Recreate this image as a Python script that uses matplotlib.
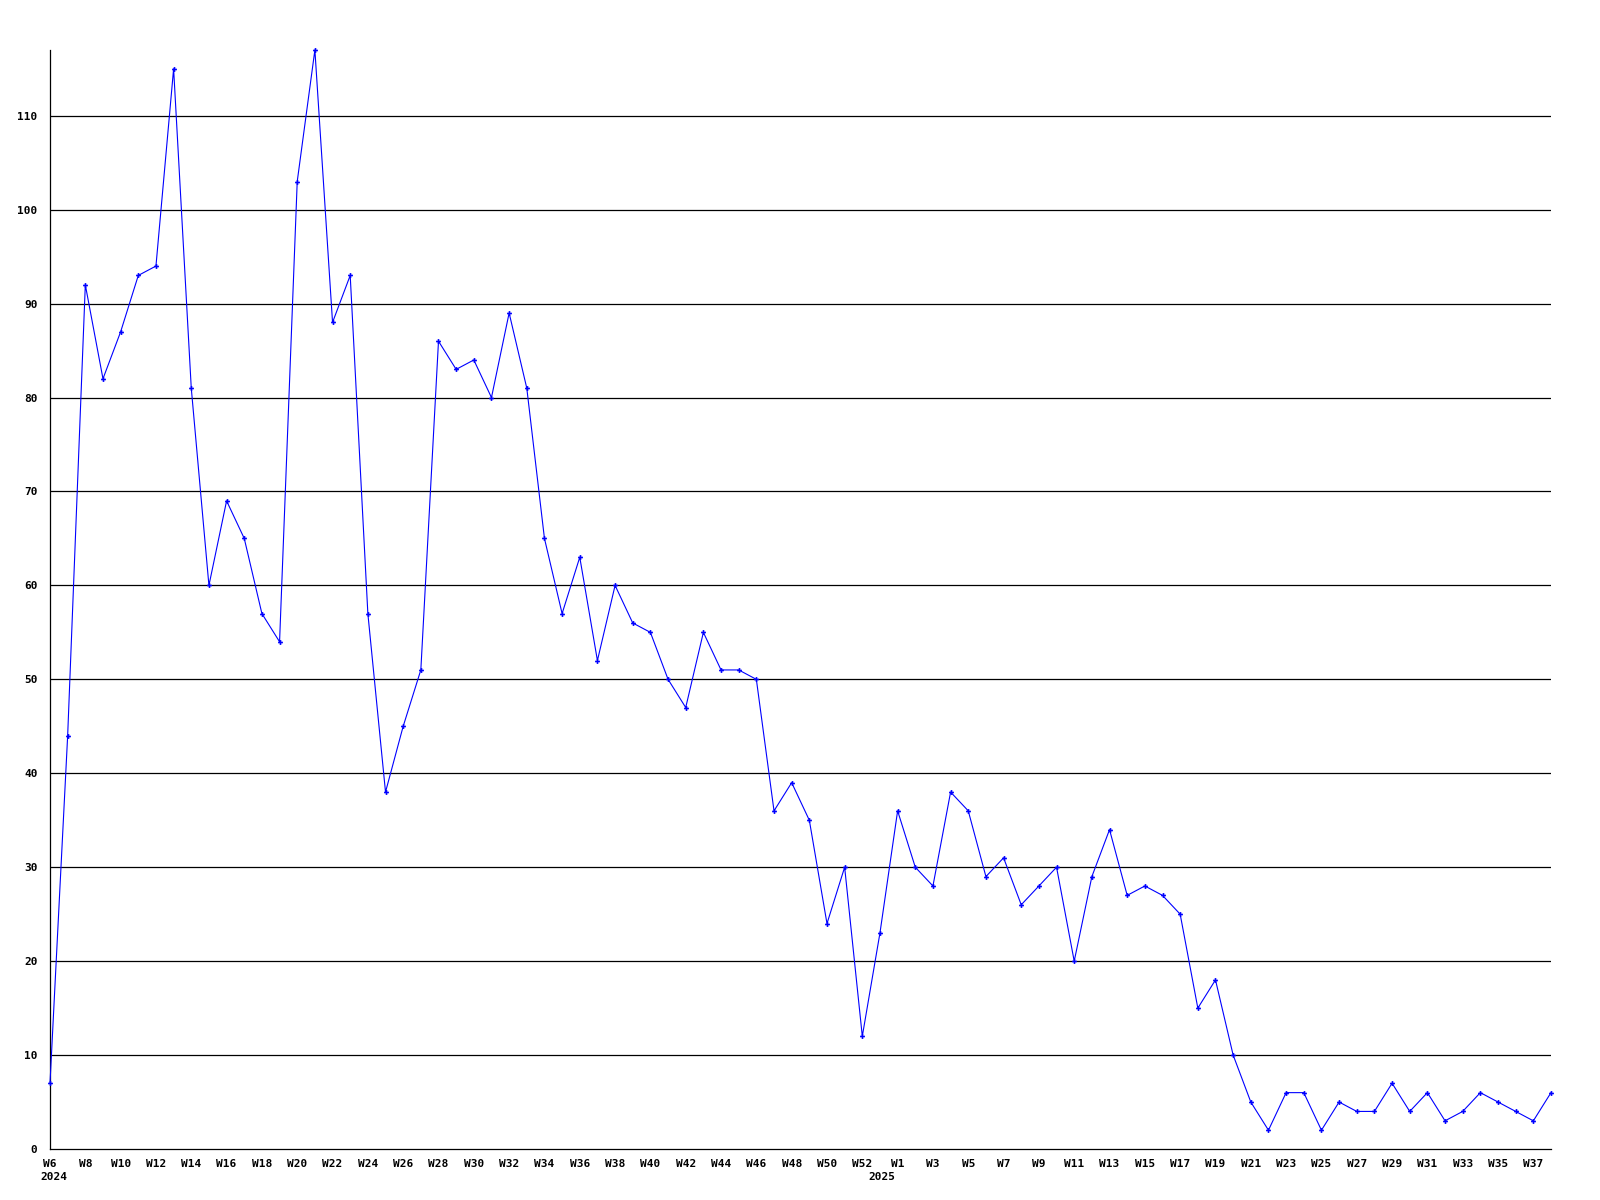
import matplotlib
matplotlib.use('Agg')
import matplotlib.pyplot as plt

# semanas 2024 (W6..W53) y 2025 (W1..W38)
semanas_2024 = [f'W{n}' for n in range(6, 54)]
valores_2024 = [7, 44, 92, 82, 87, 93, 94, 115, 81, 60, 69, 65, 57, 54, 103, 117,
                88, 93, 57, 38, 45, 51, 86, 83, 84, 80, 89, 81, 65, 57, 63, 52,
                60, 56, 55, 50, 47, 55, 51, 51, 50, 36, 39, 35, 24, 30, 12, 23]
semanas_2025 = [f'W{n}' for n in range(1, 39)]
valores_2025 = [36, 30, 28, 38, 36, 29, 31, 26, 28, 30, 20, 29, 34, 27, 28, 27,
                25, 15, 18, 10, 5, 2, 6, 6, 2, 5, 4, 4, 7, 4, 6, 3, 4, 6, 5, 4, 3, 6]

etiquetas = semanas_2024 + semanas_2025
valores = valores_2024 + valores_2025
x = list(range(len(valores)))

fig = plt.figure(figsize=(16, 12), dpi=100)
ax = fig.add_axes([50 / 1600, 1 - 1149 / 1200, 1501 / 1600, 1099 / 1200])

fuente = dict(family='DejaVu Sans Mono', weight='bold', size=8)

for v in range(10, 111, 10):
    ax.axhline(v, color='black', linewidth=0.9, zorder=1)

ax.plot(x, valores, color='#0000ff', linewidth=0.8, marker='P', markersize=3.5,
        markeredgewidth=0, clip_on=False, zorder=3)

ax.set_xlim(0, len(valores) - 1)
ax.set_ylim(0, 117)

ax.spines['top'].set_visible(False)
ax.spines['right'].set_visible(False)
ax.spines['left'].set_linewidth(0.9)
ax.spines['bottom'].set_linewidth(0.9)

ax.set_yticks(range(0, 111, 10))
ax.set_yticklabels([str(v) for v in range(0, 111, 10)], fontdict=fuente)
ax.set_xticks(x[::2])
ax.set_xticklabels(etiquetas[::2], fontdict=fuente)
ax.tick_params(axis='both', length=0)
ax.tick_params(axis='y', pad=9)
ax.tick_params(axis='x', pad=7)

ax.annotate('2024', xy=(0.2, 1 - 1177 / 1200), xycoords=('data', 'figure fraction'),
            ha='center', va='center', **fuente)
ax.annotate('2025', xy=(47.1, 1 - 1177 / 1200), xycoords=('data', 'figure fraction'),
            ha='center', va='center', **fuente)

fig.savefig('out.png', dpi=100)
